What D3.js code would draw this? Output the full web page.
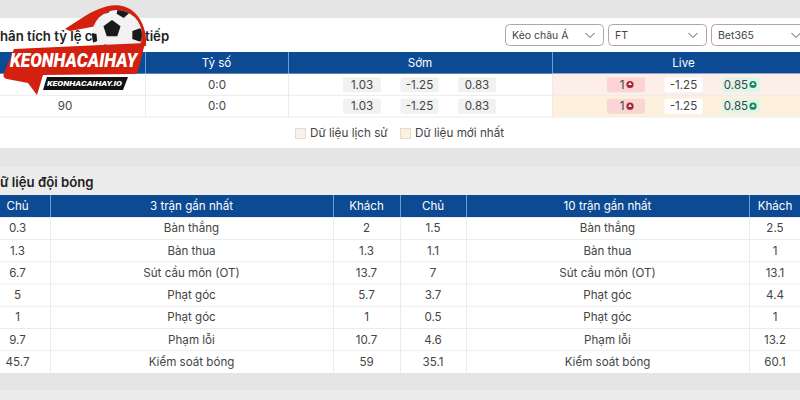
<!DOCTYPE html>
<html>
<head>
<meta charset="utf-8">
<script src="https://cdn.jsdelivr.net/npm/d3@7"></script>
<style>
    html, body { margin: 0; padding: 0; background: #e5e5e5; overflow: hidden; }
    svg { display: block; font-family: Inter, "Noto Sans", sans-serif; }
</style>
</head>
<body>
<div id="chart"></div>
<script>
// top table
const oddsHeaders = ["", "Tỷ số", "Sớm", "Live"];
const oddsMinutes = ["", "90"];
const oddsScores = ["0:0", "0:0"];
const earlyOdds = [["1.03", "-1.25", "0.83"], ["1.03", "-1.25", "0.83"]];
const liveOdds = [["1", "-1.25", "0.85"], ["1", "-1.25", "0.85"]];
const dropdowns = ["Kèo châu Á", "FT", "Bet365"];
const legendLabels = ["Dữ liệu lịch sử", "Dữ liệu mới nhất"];

// team data table
const statHeaders = ["Chủ", "3 trận gần nhất", "Khách", "Chủ", "10 trận gần nhất", "Khách"];
const statNames = ["Bàn thắng", "Bàn thua", "Sút cầu môn (OT)", "Phạt góc", "Phạt góc", "Phạm lỗi", "Kiểm soát bóng"];
const home3 = ["0.3", "1.3", "6.7", "5", "1", "9.7", "45.7"];
const away3 = ["2", "1.3", "13.7", "5.7", "1", "10.7", "59"];
const home10 = ["1.5", "1.1", "7", "3.7", "0.5", "4.6", "35.1"];
const away10 = ["2.5", "1", "13.1", "4.4", "1", "13.2", "60.1"];

const width = 800;
const height = 400;
const headerBlue = "#0d4a94";
const headerLine = "#6f9bd1";
const rowLine = "#ececec";
const textColor = "#444";

let svg = d3.select("#chart")
    .append("svg")
    .attr("width", width)
    .attr("height", height);

// page panels
svg.append("rect").attr("width", width).attr("height", height).attr("fill", "#e5e5e5");
svg.append("rect").attr("y", 18).attr("width", width).attr("height", 130).attr("fill", "#fff");
svg.append("rect").attr("y", 167).attr("width", width).attr("height", 28).attr("fill", "#ececec");
svg.append("rect").attr("y", 390).attr("width", width).attr("height", 10).attr("fill", "#ececec");

let cellText = (g, x, y, str, color) => g.append("text")
    .attr("x", x)
    .attr("y", y)
    .attr("dy", "0.35em")
    .attr("text-anchor", "middle")
    .attr("font-size", 11.6)
    .attr("fill", color || textColor)
    .text(str);

// ---- top table ----
let oddsG = svg.append("g");
let oddsEdges = [-15, 145, 288, 552, 815];
let oddsY = d3.scaleBand().domain(["head", 0, 1]).range([52, 117]);

oddsG.append("rect").attr("x", 0).attr("y", oddsY("head")).attr("width", width)
    .attr("height", oddsY.bandwidth()).attr("fill", headerBlue);

// live columns are tinted per row
oddsG.selectAll(".live-bg")
    .data(["#fdeeea", "#fdf1de"])
    .enter()
    .append("rect")
    .attr("class", "live-bg")
    .attr("x", oddsEdges[3])
    .attr("y", (d, i) => oddsY(i))
    .attr("width", width - oddsEdges[3])
    .attr("height", oddsY.bandwidth())
    .attr("fill", d => d);

oddsG.selectAll(".row-line")
    .data([0, 1])
    .enter()
    .append("line")
    .attr("x1", 0)
    .attr("x2", width)
    .attr("y1", d => oddsY(d) + oddsY.bandwidth())
    .attr("y2", d => oddsY(d) + oddsY.bandwidth())
    .attr("stroke", rowLine);

oddsEdges.slice(1, 4).forEach(x => {
    oddsG.append("line").attr("x1", x + 0.5).attr("x2", x + 0.5)
        .attr("y1", oddsY("head")).attr("y2", oddsY("head") + oddsY.bandwidth())
        .attr("stroke", headerLine);
    oddsG.append("line").attr("x1", x + 0.5).attr("x2", x + 0.5)
        .attr("y1", oddsY(0)).attr("y2", oddsY(1) + oddsY.bandwidth())
        .attr("stroke", rowLine);
});

oddsHeaders.forEach((h, i) => {
    cellText(oddsG, (oddsEdges[i] + oddsEdges[i + 1]) / 2, oddsY("head") + oddsY.bandwidth() / 2, h, "#fff");
});

oddsMinutes.forEach((m, i) => {
    cellText(oddsG, 65, oddsY(i) + oddsY.bandwidth() / 2, m);
    cellText(oddsG, 217, oddsY(i) + oddsY.bandwidth() / 2, oddsScores[i]);
});

let earlyX = d3.scalePoint().domain([0, 1, 2]).range([362, 477]);
let liveX = d3.scalePoint().domain([0, 1, 2]).range([626, 741]);
let liveChip = ["#fbd5d5", "#ffffff", "#def6ea"];

let drawChip = (x, rowIdx, fill) => oddsG.append("rect")
    .attr("x", x - 19)
    .attr("y", oddsY(rowIdx) + 3.5)
    .attr("width", 38)
    .attr("height", 15)
    .attr("rx", 2)
    .attr("fill", fill);

// little up arrow in a circle next to the odds that moved
let drawArrow = (x, y, color) => {
    oddsG.append("circle").attr("cx", x).attr("cy", y).attr("r", 3.6).attr("fill", color);
    oddsG.append("path").attr("d", `M${x - 2},${y + 0.5}L${x},${y - 2.2}L${x + 2},${y + 0.5}Z`).attr("fill", "#fff");
};

earlyOdds.forEach((row, r) => {
    row.forEach((v, c) => {
        drawChip(earlyX(c), r, "#f1f1f1");
        cellText(oddsG, earlyX(c), oddsY(r) + oddsY.bandwidth() / 2, v);
    });
});

liveOdds.forEach((row, r) => {
    let cy = oddsY(r) + oddsY.bandwidth() / 2;
    row.forEach((v, c) => {
        drawChip(liveX(c), r, liveChip[c]);
        let shift = c == 0 ? -4 : (c == 2 ? -5 : 0);
        cellText(oddsG, liveX(c) + shift, cy, v);
    });
    drawArrow(liveX(0) + 4, cy, "#a8232b");
    drawArrow(liveX(2) + 12, cy, "#1f8a5f");
});

// dropdowns
let dropX = d3.scalePoint().domain(dropdowns).range([505, 711]);
dropdowns.forEach(d => {
    let x = dropX(d);
    oddsG.append("rect").attr("x", x + 0.5).attr("y", 24.5).attr("width", 98).attr("height", 21)
        .attr("rx", 4).attr("fill", "#fff").attr("stroke", "#b5a3a3");
    oddsG.append("text").attr("x", x + 7).attr("y", 35).attr("dy", "0.35em")
        .attr("font-size", 10.5).attr("fill", "#444").text(d);
    oddsG.append("path").attr("d", `M${x + 80.5},33l4.5,4.5l4.5,-4.5`).attr("fill", "none")
        .attr("stroke", "#555").attr("stroke-width", 1);
});

// legend under the table
let legendX = d3.scalePoint().domain(legendLabels).range([296, 401]);
let legendFill = ["#f8f1ec", "#fdf1de"];
legendLabels.forEach((l, i) => {
    oddsG.append("rect").attr("x", legendX(l) - 0.5).attr("y", 128.5).attr("width", 10).attr("height", 10)
        .attr("fill", legendFill[i]).attr("stroke", "#e2dcd6");
    oddsG.append("text").attr("x", legendX(l) + 14).attr("y", 133).attr("dy", "0.35em")
        .attr("font-size", 11.7).attr("fill", textColor).text(l);
});

// section titles, only the parts that show in the source
let titleText = (x, y, str) => svg.append("text")
    .attr("x", x)
    .attr("y", y)
    .attr("dy", "0.35em")
    .attr("font-size", 13.2)
    .attr("font-weight", 600)
    .attr("fill", "#222")
    .text(str);
titleText(0, 36, "hân tích tỷ lệ c");
titleText(145, 36, "tiếp");
titleText(0, 182, "ữ liệu đội bóng");

// ---- team data table ----
let stats = svg.append("g");
let statEdges = [-15, 50, 333, 400, 466, 749, 815];
let statRows = d3.range(statNames.length);
let statY = d3.scaleBand().domain(["head"].concat(statRows)).range([195, 373]);
let colCenter = i => i == 5 ? 775 : (statEdges[i] + statEdges[i + 1]) / 2;

stats.append("rect").attr("x", 0).attr("y", statY("head")).attr("width", width)
    .attr("height", statY.bandwidth()).attr("fill", headerBlue);
stats.append("rect").attr("x", 0).attr("y", statY(0)).attr("width", width)
    .attr("height", statY.bandwidth() * statRows.length).attr("fill", "#fff");

stats.selectAll(".stat-line")
    .data(statRows.slice(0, -1))
    .enter()
    .append("line")
    .attr("class", "stat-line")
    .attr("x1", 0)
    .attr("x2", width)
    .attr("y1", d => statY(d) + statY.bandwidth())
    .attr("y2", d => statY(d) + statY.bandwidth())
    .attr("stroke", rowLine);

statEdges.slice(1, 6).forEach(x => {
    stats.append("line").attr("x1", x + 0.5).attr("x2", x + 0.5)
        .attr("y1", statY("head")).attr("y2", statY("head") + statY.bandwidth())
        .attr("stroke", headerLine);
    stats.append("line").attr("x1", x + 0.5).attr("x2", x + 0.5)
        .attr("y1", statY(0)).attr("y2", statY(statRows.length - 1) + statY.bandwidth())
        .attr("stroke", rowLine);
});

statHeaders.forEach((h, i) => {
    cellText(stats, colCenter(i), statY("head") + statY.bandwidth() / 2, h, "#fff");
});

let statCols = [home3, statNames, away3, home10, statNames, away10];
statCols.forEach((col, i) => {
    col.forEach((v, r) => {
        cellText(stats, colCenter(i), statY(r) + statY.bandwidth() / 2, v);
    });
});

// ---- logo on top of everything ----
let logo = svg.append("g");

// swoosh behind the ball
logo.append("path")
    .attr("d", "M65,29 C76,22 88,13 99,9 C112,3 126,4 135,13 C143,21 147,33 146,46 L120,46 L97,26 L70,31 Z")
    .attr("fill", "#d4200f");

let defs = svg.append("defs");
defs.append("clipPath").attr("id", "ball-clip")
    .append("circle").attr("cx", 117).attr("cy", 35).attr("r", 25);

logo.append("circle").attr("cx", 117).attr("cy", 35).attr("r", 25).attr("fill", "#f2f2f2");

let ballPatches = [[112, 29, 9, -90], [123, 11, 7, -60], [138, 35, 7, 0], [92, 38, 6, 30], [106, 10, 4, -110], [104, 50, 6, 0], [126, 52, 6, 0]];
let pentagon = (d) => d3.range(5).map(k => {
    let a = (d[3] + k * 72) * Math.PI / 180;
    return [d[0] + d[2] * Math.cos(a), d[1] + d[2] * Math.sin(a)];
});
logo.append("g")
    .attr("clip-path", "url(#ball-clip)")
    .selectAll("polygon")
    .data(ballPatches)
    .enter()
    .append("polygon")
    .attr("points", d => pentagon(d).join(" "))
    .attr("fill", "#1a1a1a");

// speech bubble banner
logo.append("path")
    .attr("d", "M14,49 L145,43 L138,71 Q137,74 133,74 L43,75 L37,95 L28,83 L7,79 Q2,78 4,73 Z")
    .attr("fill", "#d4200f");
logo.append("text").attr("x", 10).attr("y", 60).attr("dy", "0.35em")
    .attr("font-family", "Roboto, sans-serif")
    .attr("font-size", 20).attr("font-weight", 900).attr("font-style", "italic")
    .attr("textLength", 127).attr("lengthAdjust", "spacingAndGlyphs")
    .attr("fill", "#fff").text("KEONHACAIHAY");
logo.append("path").attr("d", "M47,77 L128,77 L123,90 L43,90 Z").attr("fill", "#111");
logo.append("text").attr("x", 47).attr("y", 83.5).attr("dy", "0.35em")
    .attr("font-family", "Roboto, sans-serif")
    .attr("font-size", 8).attr("font-weight", 900).attr("font-style", "italic")
    .attr("textLength", 75).attr("lengthAdjust", "spacingAndGlyphs")
    .attr("fill", "#fff").text("KEONHACAIHAY.IO");
</script>
</body>
</html>
